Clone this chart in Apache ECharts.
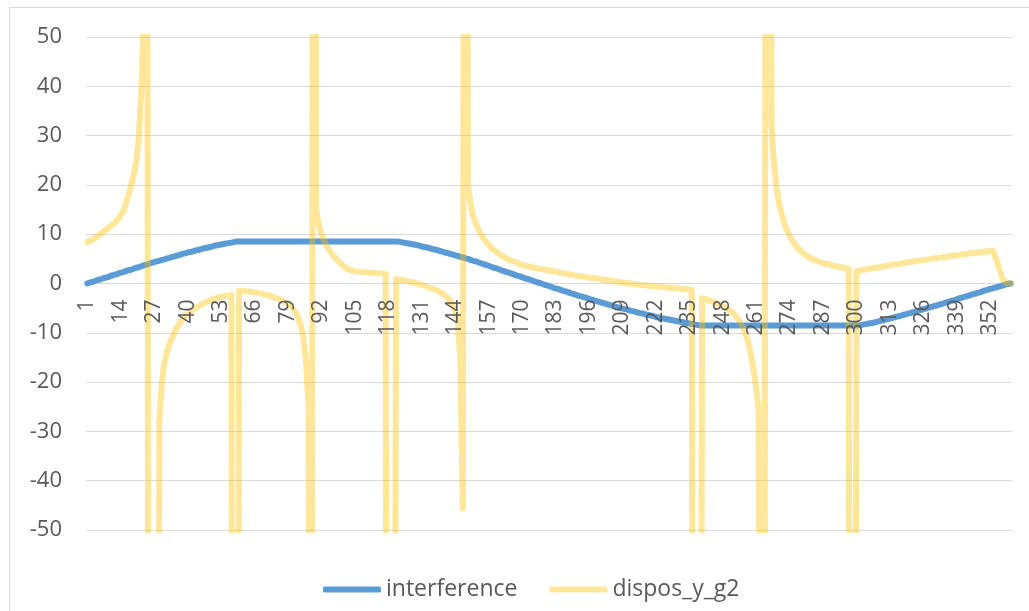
<!DOCTYPE html>
<html>
<head>
<meta charset="utf-8">
<script src="https://cdn.jsdelivr.net/npm/echarts@6/dist/echarts.min.js"></script>
<style>
html,body{margin:0;padding:0;background:#fff;}
#chart{width:1029px;height:611px;}
</style>
</head>
<body>
<div id="chart"></div>
<script>
// Category labels 1..360 (degrees)
const categories = [];
for (let i = 1; i <= 360; i++) categories.push(String(i));

const seriesNames = ['interference', 'dispos_y_g2'];

// interference (blue)
const interference = [
  0.0, 0.2, 0.3, 0.5, 0.7, 0.8, 1.0, 1.2, 1.3, 1.5,
  1.7, 1.8, 2.0, 2.2, 2.3, 2.5, 2.7, 2.8, 3.0, 3.2,
  3.3, 3.5, 3.7, 3.8, 4.0, 4.2, 4.3, 4.5, 4.6, 4.8,
  4.9, 5.1, 5.2, 5.4, 5.5, 5.7, 5.8, 6.0, 6.1, 6.3,
  6.4, 6.5, 6.7, 6.8, 6.9, 7.1, 7.2, 7.3, 7.4, 7.6,
  7.7, 7.8, 7.9, 8.0, 8.1, 8.2, 8.3, 8.4, 8.5, 8.5,
  8.5, 8.5, 8.5, 8.5, 8.5, 8.5, 8.5, 8.5, 8.5, 8.5,
  8.5, 8.5, 8.5, 8.5, 8.5, 8.5, 8.5, 8.5, 8.5, 8.5,
  8.5, 8.5, 8.5, 8.5, 8.5, 8.5, 8.5, 8.5, 8.5, 8.5,
  8.5, 8.5, 8.5, 8.5, 8.5, 8.5, 8.5, 8.5, 8.5, 8.5,
  8.5, 8.5, 8.5, 8.5, 8.5, 8.5, 8.5, 8.5, 8.5, 8.5,
  8.5, 8.5, 8.5, 8.5, 8.5, 8.5, 8.5, 8.5, 8.5, 8.5,
  8.5, 8.5, 8.4, 8.3, 8.2, 8.1, 8.0, 7.9, 7.8, 7.7,
  7.5, 7.4, 7.3, 7.2, 7.0, 6.9, 6.8, 6.6, 6.5, 6.3,
  6.2, 6.0, 5.9, 5.7, 5.6, 5.4, 5.3, 5.1, 5.0, 4.8,
  4.6, 4.5, 4.3, 4.1, 3.9, 3.8, 3.6, 3.4, 3.2, 3.1,
  2.9, 2.7, 2.5, 2.3, 2.2, 2.0, 1.8, 1.6, 1.5, 1.3,
  1.1, 0.9, 0.8, 0.6, 0.4, 0.2, 0.1, -0.1, -0.3, -0.4,
  -0.6, -0.8, -1.0, -1.1, -1.3, -1.5, -1.6, -1.8, -2.0, -2.1,
  -2.3, -2.5, -2.6, -2.8, -2.9, -3.1, -3.3, -3.4, -3.6, -3.7,
  -3.9, -4.0, -4.2, -4.3, -4.5, -4.6, -4.8, -4.9, -5.1, -5.2,
  -5.3, -5.5, -5.6, -5.7, -5.9, -6.0, -6.1, -6.3, -6.4, -6.5,
  -6.6, -6.8, -6.9, -7.0, -7.1, -7.2, -7.3, -7.4, -7.5, -7.6,
  -7.7, -7.8, -7.9, -8.0, -8.1, -8.2, -8.3, -8.4, -8.5, -8.5,
  -8.5, -8.5, -8.5, -8.5, -8.5, -8.5, -8.5, -8.5, -8.5, -8.5,
  -8.5, -8.5, -8.5, -8.5, -8.5, -8.5, -8.5, -8.5, -8.5, -8.5,
  -8.5, -8.5, -8.5, -8.5, -8.5, -8.5, -8.5, -8.5, -8.5, -8.5,
  -8.5, -8.5, -8.5, -8.5, -8.5, -8.5, -8.5, -8.5, -8.5, -8.5,
  -8.5, -8.5, -8.5, -8.5, -8.5, -8.5, -8.5, -8.5, -8.5, -8.5,
  -8.5, -8.5, -8.5, -8.5, -8.5, -8.5, -8.5, -8.5, -8.5, -8.5,
  -8.5, -8.4, -8.3, -8.2, -8.1, -8.0, -7.9, -7.8, -7.6, -7.5,
  -7.4, -7.2, -7.1, -7.0, -6.8, -6.7, -6.6, -6.4, -6.3, -6.1,
  -6.0, -5.8, -5.7, -5.5, -5.4, -5.2, -5.1, -4.9, -4.8, -4.6,
  -4.5, -4.3, -4.2, -4.0, -3.8, -3.7, -3.5, -3.4, -3.2, -3.0,
  -2.9, -2.7, -2.6, -2.4, -2.2, -2.1, -1.9, -1.8, -1.6, -1.4,
  -1.3, -1.1, -1.0, -0.8, -0.7, -0.5, -0.4, -0.2, -0.1, 0.0
];

// dispos_y_g2 (yellow); values far outside the axis range are clipped
const disposYG2 = [
  8.4, 8.6, 8.9, 9.2, 9.6, 10.0, 10.4, 10.8, 11.2, 11.6,
  12.0, 12.5, 13.1, 13.8, 14.8, 16.2, 18.0, 19.8, 21.8, 24.5,
  29.5, 39.0, 55.0, 300, -300, -300, -300, -300, -28.0, -20.0,
  -16.0, -13.8, -12.2, -11.0, -9.8, -8.8, -8.0, -7.3, -6.7, -6.2,
  -5.8, -5.4, -5.0, -4.7, -4.4, -4.1, -3.8, -3.6, -3.4, -3.2,
  -3.0, -2.8, -2.7, -2.6, -2.5, -2.4, -2.3, -300, -300, -1.5,
  -1.5, -1.5, -1.6, -1.6, -1.7, -1.8, -1.9, -2.0, -2.1, -2.2,
  -2.3, -2.5, -2.7, -2.9, -3.1, -3.3, -3.5, -3.8, -4.1, -4.5,
  -5.1, -5.9, -7.0, -8.5, -11.0, -15.5, -25.0, -300, 300, 15.0,
  11.8, 10.0, 8.7, 7.7, 6.9, 6.1, 5.4, 4.8, 4.3, 3.8,
  3.4, 3.0, 2.8, 2.6, 2.5, 2.4, 2.4, 2.3, 2.3, 2.2,
  2.2, 2.2, 2.1, 2.1, 2.1, 2.0, 2.0, -300, -300, -300,
  0.9, 0.8, 0.7, 0.6, 0.5, 0.4, 0.3, 0.2, 0.0, -0.1,
  -0.3, -0.4, -0.6, -0.8, -1.0, -1.2, -1.4, -1.7, -2.0, -2.4,
  -2.9, -3.5, -4.3, -5.5, -7.5, -15.0, -45.6, 300, 20.0, 16.0,
  13.8, 12.2, 11.0, 10.0, 9.2, 8.5, 7.9, 7.3, 6.8, 6.4,
  6.0, 5.7, 5.4, 5.1, 4.8, 4.6, 4.4, 4.2, 4.0, 3.8,
  3.7, 3.5, 3.4, 3.3, 3.2, 3.1, 3.0, 2.9, 2.8, 2.7,
  2.6, 2.5, 2.4, 2.3, 2.2, 2.1, 2.0, 1.9, 1.8, 1.7,
  1.6, 1.5, 1.5, 1.4, 1.3, 1.2, 1.1, 1.1, 1.0, 0.9,
  0.8, 0.7, 0.7, 0.6, 0.5, 0.4, 0.4, 0.3, 0.2, 0.1,
  0.1, 0.0, -0.1, -0.1, -0.2, -0.3, -0.3, -0.4, -0.4, -0.5,
  -0.5, -0.6, -0.6, -0.7, -0.7, -0.8, -0.8, -0.9, -0.9, -1.0,
  -1.0, -1.1, -1.1, -1.2, -1.2, -1.3, -300, -300, -300, -3.0,
  -3.1, -3.3, -3.5, -3.7, -3.9, -4.1, -4.3, -4.6, -4.9, -5.2,
  -5.6, -6.0, -6.5, -7.2, -8.0, -9.0, -10.3, -12.0, -14.5, -17.5,
  -21.0, -26.0, -300, -300, 300, 300, 32.0, 24.0, 19.5, 16.0,
  14.0, 12.2, 10.8, 9.7, 8.8, 8.0, 7.3, 6.8, 6.3, 5.9,
  5.5, 5.2, 4.9, 4.7, 4.5, 4.3, 4.1, 4.0, 3.9, 3.8,
  3.6, 3.5, 3.4, 3.3, 3.2, 3.1, 3.0, -300, -300, 2.5,
  2.6, 2.7, 2.8, 2.9, 3.0, 3.1, 3.2, 3.2, 3.3, 3.4,
  3.5, 3.6, 3.7, 3.8, 3.9, 3.9, 4.0, 4.1, 4.2, 4.3,
  4.4, 4.4, 4.5, 4.6, 4.7, 4.8, 4.8, 4.9, 5.0, 5.1,
  5.1, 5.2, 5.3, 5.4, 5.4, 5.5, 5.6, 5.7, 5.7, 5.8,
  5.9, 6.0, 6.0, 6.1, 6.2, 6.2, 6.3, 6.4, 6.4, 6.5,
  6.5, 6.6, 6.7, 5.4, 3.8, 2.3, 0.8, 0.2, 0.1, 0.0
];

const yMin = -50, yMax = 50, yStep = 10;

if (interference.length !== 360 || disposYG2.length !== 360) {
  throw new Error('length mismatch ' + interference.length + ' ' + disposYG2.length);
}

const GRID = {left: 86, right: 17, top: 37, bottom: 81};
const plotH = 611 - GRID.top - GRID.bottom;
// move the category axis to the value 0 (middle of the -50..50 range)
const zeroOffset = -plotH * (0 - yMin) / (yMax - yMin);

const FONT = '"Open Sans", "Liberation Sans", sans-serif';
const chart = echarts.init(document.getElementById('chart'), null, {renderer: 'canvas'});
chart.setOption({
  animation: false,
  backgroundColor: '#ffffff',
  graphic: [{
    type: 'rect',
    shape: {x: 9.5, y: 7.5, width: 1100, height: 700},
    style: {fill: 'none', stroke: '#d9d9d9', lineWidth: 1},
    silent: true,
    z: -10
  }],
  grid: Object.assign({containLabel: false}, GRID),
  legend: {
    data: seriesNames,
    left: 318,
    top: 573,
    icon: 'roundRect',
    itemWidth: 58,
    itemHeight: 6,
    itemGap: 32,
    textStyle: {color: '#595959', fontSize: 23, fontFamily: FONT}
  },
  xAxis: {
    type: 'category',
    data: categories,
    boundaryGap: true,
    position: 'bottom',
    offset: zeroOffset,
    z: 10,
    axisLine: {show: false, onZero: false},
    axisTick: {show: false},
    axisLabel: {
      interval: 12,
      rotate: 90,
      margin: 16,
      color: '#595959',
      fontSize: 21,
      fontFamily: FONT
    },
    splitLine: {show: false}
  },
  yAxis: {
    type: 'value',
    min: yMin,
    max: yMax,
    interval: yStep,
    axisLine: {show: false},
    axisTick: {show: false},
    axisLabel: {color: '#595959', fontSize: 22, fontFamily: FONT, margin: 24},
    splitLine: {lineStyle: {color: '#d9d9d9', width: 1}}
  },
  series: [
    {
      name: seriesNames[0],
      type: 'line',
      data: interference,
      symbol: 'none',
      clip: true,
      itemStyle: {color: '#5B9BD5'},
      lineStyle: {color: '#5B9BD5', width: 6, cap: 'round', join: 'round'},
      z: 2
    },
    {
      name: seriesNames[1],
      type: 'line',
      data: disposYG2,
      symbol: 'none',
      clip: true,
      itemStyle: {color: '#FFC000', opacity: 0.4},
      lineStyle: {color: '#FFC000', opacity: 0.4, width: 6, cap: 'round', join: 'round'},
      z: 3
    }
  ]
});
</script>
</body>
</html>
